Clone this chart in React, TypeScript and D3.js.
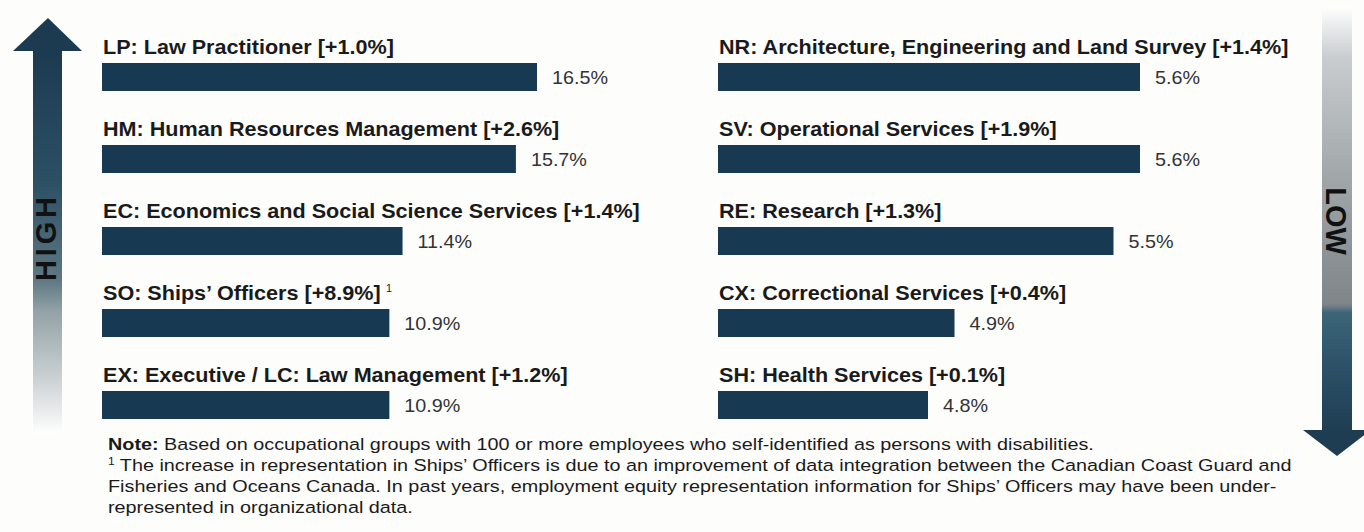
import { scaleLinear, scaleBand, range, format } from 'd3';

const leftCategories = [
  'LP: Law Practitioner',
  'HM: Human Resources Management',
  'EC: Economics and Social Science Services',
  'SO: Ships’ Officers',
  'EX: Executive / LC: Law Management',
];
const leftChange = ['+1.0%', '+2.6%', '+1.4%', '+8.9%', '+1.2%'];
const leftValues = [16.5, 15.7, 11.4, 10.9, 10.9];
const leftFootnote = ['', '', '', '1', ''];

const rightCategories = [
  'NR: Architecture, Engineering and Land Survey',
  'SV: Operational Services',
  'RE: Research',
  'CX: Correctional Services',
  'SH: Health Services',
];
const rightChange = ['+1.4%', '+1.9%', '+1.3%', '+0.4%', '+0.1%'];
const rightValues = [5.6, 5.6, 5.5, 4.9, 4.8];

const noteLines = [
  'Based on occupational groups with 100 or more employees who self-identified as persons with disabilities.',
  ' The increase in representation in Ships’ Officers is due to an improvement of data integration between the Canadian Coast Guard and',
  'Fisheries and Oceans Canada. In past years, employment equity representation information for Ships’ Officers may have been under-',
  'represented in organizational data.',
];

const W = 1364;
const H = 532;
const FONT = '"Liberation Sans", Arial, sans-serif';
const BAR = '#173a52';
// the source picture is stretched sideways, so the text is too
const SX_LABEL = 1.08;
const SX_VALUE = 1.04;
const SX_NOTE = 1.2;

const fmt = format('.1f');

const rows = scaleBand<number>().domain(range(5)).range([36, 446]);
const xLeft = scaleLinear().domain([0, 16.5]).range([102, 537]);
const xRight = scaleLinear().domain([4, 5.6]).range([716, 1140]);

const at = (x: number, y: number, sx: number) => `translate(${x},${y}) scale(${sx},1)`;

type Col = {
  cats: string[];
  changes: string[];
  values: number[];
  x: (v: number) => number;
  x0: number;
  foot?: string[];
};

function Column({ cats, changes, values, x, x0, foot }: Col) {
  return (
    <g>
      {cats.map((c, i) => {
        const y = rows(i) as number;
        const end = x(values[i]);
        return (
          <g key={c}>
            <text transform={at(x0 + 1, y + 18, SX_LABEL)} fontSize={20} fontWeight="bold" fill="#1a1a1a">
              {`${c} [${changes[i]}]`}
              {foot && foot[i] ? (
                <tspan fontSize={10} fontWeight="normal" dx={5} dy={-8}>
                  {foot[i]}
                </tspan>
              ) : null}
            </text>
            <rect x={x0} y={y + 27} width={end - x0} height={28} fill={BAR} />
            <text transform={at(end + 15, y + 41, SX_VALUE)} dy="0.35em" fontSize={19} fill="#333">
              {fmt(values[i])}%
            </text>
          </g>
        );
      })}
    </g>
  );
}

export default function App() {
  return (
    <svg
      width={W}
      height={H}
      style={{ position: 'absolute', left: 0, top: 0, background: '#fdfdfc' }}
      fontFamily={FONT}
    >
      <defs>
        <linearGradient id="upShaft" gradientUnits="userSpaceOnUse" x1={0} y1={48} x2={0} y2={435}>
          <stop offset="0" stopColor="#1b3a50" />
          <stop offset="0.35" stopColor="#2d5064" />
          <stop offset="0.6" stopColor="#5f7883" />
          <stop offset="0.68" stopColor="#93a2a7" />
          <stop offset="0.85" stopColor="#c9d0d2" />
          <stop offset="1" stopColor="#ffffff" />
        </linearGradient>
        <linearGradient id="downShaft" gradientUnits="userSpaceOnUse" x1={0} y1={6} x2={0} y2={432}>
          <stop offset="0" stopColor="#ffffff" />
          <stop offset="0.12" stopColor="#c9cdcf" />
          <stop offset="0.4" stopColor="#a1a6a9" />
          <stop offset="0.7" stopColor="#80858a" />
          <stop offset="0.72" stopColor="#3c6577" />
          <stop offset="0.86" stopColor="#2b4f66" />
          <stop offset="1" stopColor="#1e3d52" />
        </linearGradient>
      </defs>

      {/* high arrow */}
      <rect x={33} y={48} width={29} height={387} fill="url(#upShaft)" />
      <polygon points="13,51 48,18 82,51" fill="#1c3b50" />
      <text
        transform="translate(46,239) rotate(-90)"
        textAnchor="middle"
        dominantBaseline="central"
        fontSize={29}
        fontWeight="bold"
        fill="#111"
        textLength={84}
        lengthAdjust="spacing"
      >
        HIGH
      </text>

      {/* low arrow */}
      <rect x={1322} y={6} width={30} height={426} fill="url(#downShaft)" />
      <polygon points="1303,430 1371,430 1337,456" fill="#1e3d52" />
      <text
        transform="translate(1336,221) rotate(90)"
        textAnchor="middle"
        dominantBaseline="central"
        fontSize={29}
        fontWeight="bold"
        fill="#111"
      >
        LOW
      </text>

      <Column cats={leftCategories} changes={leftChange} values={leftValues} x={xLeft} x0={102} foot={leftFootnote} />
      <Column cats={rightCategories} changes={rightChange} values={rightValues} x={xRight} x0={718} />

      <g fontSize={16.5} fill="#1a1a1a">
        <text transform={at(108, 450, SX_NOTE)}>
          <tspan fontWeight="bold">Note:</tspan> {noteLines[0]}
        </text>
        <text transform={at(108, 471, SX_NOTE)}>
          <tspan fontSize={10} dy={-6}>1</tspan>
          <tspan dy={6}>{noteLines[1]}</tspan>
        </text>
        <text transform={at(108, 492, SX_NOTE)}>{noteLines[2]}</text>
        <text transform={at(108, 513, SX_NOTE)}>{noteLines[3]}</text>
      </g>
    </svg>
  );
}
